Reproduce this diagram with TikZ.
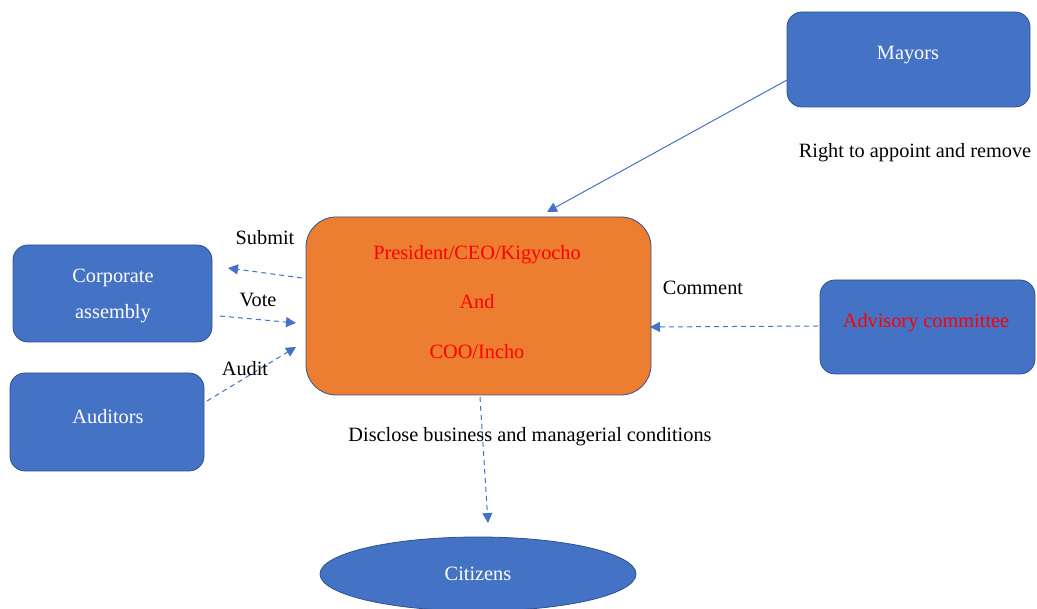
\documentclass[tikz,border=0pt]{standalone}
\usepackage{fontspec}
\setmainfont{Liberation Serif}
\usetikzlibrary{arrows.meta,shapes.geometric}
\definecolor{wblue}{HTML}{4472C4}
\definecolor{wborder}{HTML}{2F528F}
\definecolor{worange}{HTML}{ED7D31}
\definecolor{wred}{HTML}{FF0000}
\tikzset{
  box/.style={draw=wborder, line width=0.8pt, fill=wblue, rounded corners=15pt, text=white},
  conn/.style={draw=wblue, line width=1pt, -{Triangle[length=10pt,width=10pt]}},
  dconn/.style={conn, dash pattern=on 5pt off 4pt},
  lbl/.style={text=black, inner sep=0pt},
}
\begin{document}
\begin{tikzpicture}[x=1pt,y=-1pt,font=\fontsize{20.3}{24}\selectfont]
\useasboundingbox (0,0) rectangle (1037,609);
\begin{scope}
\clip (0,0) rectangle (1037,609);
% nodes
\node[box, minimum width=243pt, minimum height=95pt] (may) at (908.5,59.5) {};
\node[text=white] (mayt) at (908,55) {Mayors};
\node[draw=wborder, line width=0.8pt, fill=worange, rounded corners=30pt, minimum width=345pt, minimum height=178pt] (ceo) at (478.5,306) {};
\node[text=wred] (ceo1) at (477,255) {President/CEO/Kigyocho};
\node[text=wred] (ceo2) at (477,302) {And};
\node[text=wred] (ceo3) at (477,352) {COO/Incho};
\node[box, minimum width=199pt, minimum height=97pt] (corp) at (112.5,293.5) {};
\node[text=white] (corp1) at (113,278) {Corporate};
\node[text=white] (corp2) at (113,314) {assembly};
\node[box, minimum width=194pt, minimum height=98pt] (aud) at (107,422) {};
\node[text=white] (audt) at (108,417) {Auditors};
\node[box, minimum width=215pt, minimum height=94pt] (adv) at (927.5,327) {};
\node[text=wred] (advt) at (926,323) {Advisory committee};
\node[draw=wborder, line width=0.8pt, fill=wblue, ellipse, minimum width=316pt, minimum height=74pt, inner sep=0pt] (cit) at (478,574) {};
\node[text=white] (citt) at (478,574) {Citizens};
% anchors
\coordinate (m1) at (787,80);
\coordinate (m2) at (547,212);
\coordinate (s1) at (302,278);
\coordinate (s2) at (228,268);
\coordinate (v1) at (220,316);
\coordinate (v2) at (296,323);
\coordinate (a1) at (207,401);
\coordinate (a2) at (296,347);
\coordinate (c1) at (818,326);
\coordinate (c2) at (650,327);
\coordinate (d1) at (480,397);
\coordinate (d2) at (488,523);
\end{scope}
% connectors
\draw[conn] (m1) -- (m2);
\draw[dconn] (s1) -- (s2);
\draw[dconn] (v1) -- (v2);
\draw[dconn] (a1) -- (a2);
\draw[dconn] (c1) -- (c2);
\draw[dconn] (d1) -- (d2);
% labels
\node[lbl] (lsub) at (265,238) {Submit};
\node[lbl] (lvote) at (258,300) {Vote};
\node[lbl] (laud) at (245,369) {Audit};
\node[lbl] (lcom) at (703,288) {Comment};
\node[lbl] (lright) at (915,153) {Right to appoint and remove};
\node[lbl] (ldis) at (530,437) {Disclose business and managerial conditions};
\end{tikzpicture}
\end{document}
